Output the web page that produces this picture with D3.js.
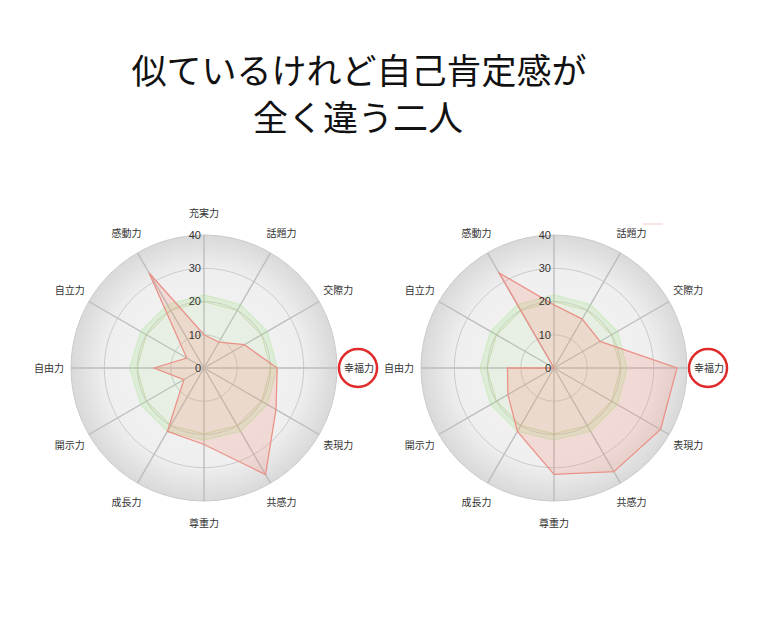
<!DOCTYPE html>
<html>
<head>
<meta charset="utf-8">
<script src="https://cdn.jsdelivr.net/npm/d3@7"></script>
<style>
  body { margin: 0; background: #fff; }
  text { font-family: "Noto Sans CJK JP", "Noto Sans", sans-serif; }
</style>
</head>
<body>
<svg id="chart"></svg>
<script>
var svgWidth = 760;
var svgHeight = 637;

// data
var titleLines = ["似ているけれど自己肯定感が", "全く違う二人"];
var axes = ["充実力", "話題力", "交際力", "幸福力", "表現力", "共感力",
            "尊重力", "成長力", "開示力", "自由力", "自立力", "感動力"];
var tickValues = [0, 10, 20, 30, 40];
var personA = [10, 9, 14, 22, 25, 37, 23, 22, 7, 15, 6, 33];
var personB = [19, 17, 16, 37, 37, 36, 32, 22, 16, 14, 0, 33];
var averageOuter = [22, 22, 22, 22, 22, 22, 21.7, 22, 22, 22.3, 22, 22];
var averageInner = [20, 20, 20, 20, 20, 20, 19.8, 20, 20, 20.2, 20, 20];
var highlight = "幸福力";

var radius = 133;
var charts = [
  { cx: 204, cy: 368, values: personA, showTop: true },
  { cx: 554, cy: 368, values: personB, showTop: false }
];

var svg = d3.select("#chart").attr("width", svgWidth).attr("height", svgHeight);

// title
svg.selectAll(".title").data(titleLines).enter()
  .append("text")
  .attr("class", "title")
  .attr("x", (d, i) => i == 0 ? 359 : 358)
  .attr("y", (d, i) => 84 + i * 47)
  .attr("text-anchor", "middle")
  .attr("font-size", 35)
  .attr("fill", "#111")
  .text(d => d);

var defs = svg.append("defs");
var grad = defs.append("radialGradient").attr("id", "bg");
grad.append("stop").attr("offset", "0%").attr("stop-color", "#f4f4f4");
grad.append("stop").attr("offset", "74%").attr("stop-color", "#efefef");
grad.append("stop").attr("offset", "100%").attr("stop-color", "#d9d9d9");

var r = d3.scaleLinear().domain([0, 40]).range([0, radius]);
var angle = d3.scalePoint().domain(axes).range([0, 2 * Math.PI * 11 / 12]);

var radar = d3.lineRadial()
  .angle((d, i) => angle(axes[i]))
  .radius(d => r(d))
  .curve(d3.curveLinearClosed);

charts.forEach(function(c) {
  var g = svg.append("g").attr("transform", `translate(${c.cx},${c.cy})`);

  g.append("circle").attr("r", r(40)).attr("fill", "url(#bg)");

  // rings
  g.selectAll(".ring").data(tickValues.slice(1)).enter()
    .append("circle")
    .attr("class", "ring")
    .attr("r", d => r(d))
    .attr("fill", "none")
    .attr("stroke", "#cbcbcb")
    .attr("stroke-width", 1);

  // spokes
  g.selectAll(".spoke").data(axes).enter()
    .append("line")
    .attr("class", "spoke")
    .attr("x1", 0).attr("y1", 0)
    .attr("x2", d => r(40) * Math.sin(angle(d)))
    .attr("y2", d => -r(40) * Math.cos(angle(d)))
    .attr("stroke", "#bdbdbd")
    .attr("stroke-width", 1.4);

  // average band
  g.append("path")
    .attr("d", radar(averageOuter))
    .attr("fill", "rgba(170,230,150,0.13)")
    .attr("stroke", "rgba(170,228,150,0.4)")
    .attr("stroke-width", 1.3);
  g.append("path")
    .attr("d", radar(averageOuter.map((d, i) => (d + averageInner[i]) / 2)))
    .attr("fill", "none")
    .attr("stroke", "rgba(175,230,155,0.16)")
    .attr("stroke-width", 5);
  g.append("path")
    .attr("d", radar(averageInner))
    .attr("fill", "none")
    .attr("stroke", "rgba(175,200,120,0.45)")
    .attr("stroke-width", 1.1);

  // person
  g.append("path")
    .attr("d", radar(c.values))
    .attr("fill", "rgba(245,140,120,0.22)")
    .attr("stroke", "#ea9288")
    .attr("stroke-width", 1.3)
    .attr("stroke-linejoin", "miter");

  // tick labels
  g.selectAll(".tick").data(tickValues).enter()
    .append("text")
    .attr("class", "tick")
    .attr("x", -3)
    .attr("y", d => -r(d))
    .attr("dy", "0.36em")
    .attr("text-anchor", "end")
    .style("font-family", "'Liberation Sans', Arial, sans-serif")
    .attr("font-size", 11)
    .attr("fill", "#333")
    .text(d => d);

  // axis labels
  g.selectAll(".lab").data(c.showTop ? axes : axes.slice(1)).enter()
    .append("text")
    .attr("class", "lab")
    .attr("x", d => 155 * Math.sin(angle(d)))
    .attr("y", d => -155 * Math.cos(angle(d)))
    .attr("dy", "0.36em")
    .attr("text-anchor", "middle")
    .attr("font-size", 10)
    .attr("fill", "#333")
    .text(d => d);

  // highlight mark
  var a = angle(highlight);
  g.append("circle")
    .attr("cx", 154 * Math.sin(a))
    .attr("cy", -154 * Math.cos(a))
    .attr("r", 19)
    .attr("fill", "none")
    .attr("stroke", "#e02b2b")
    .attr("stroke-width", 2.5);
});

// faint leftover mark above the right chart
svg.append("line")
  .attr("x1", 643).attr("y1", 224).attr("x2", 663).attr("y2", 224)
  .attr("stroke", "rgba(240,150,150,0.5)")
  .attr("stroke-width", 1);
</script>
</body>
</html>
